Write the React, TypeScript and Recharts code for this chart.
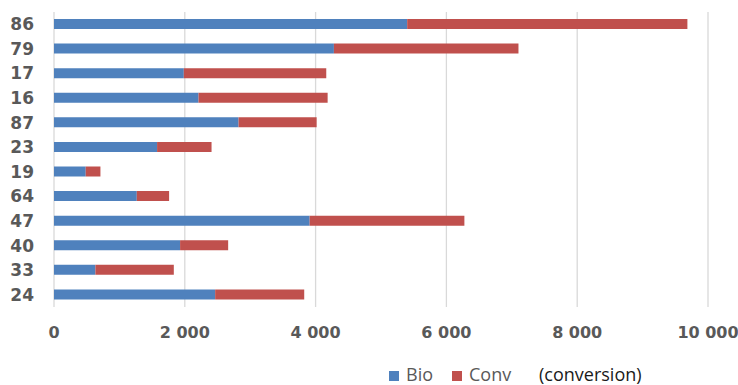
import React from 'react';
import { BarChart, Bar, XAxis, YAxis, CartesianGrid, Legend } from 'recharts';

const categories = ['86', '79', '17', '16', '87', '23', '19', '64', '47', '40', '33', '24'];
const bioValues = [5400, 4280, 1985, 2210, 2822, 1576, 485, 1266, 3909, 1928, 633, 2464];
const convValues = [4285, 2822, 2178, 1974, 1194, 833, 225, 494, 2366, 735, 1199, 1362];
const xTicks = [0, 2000, 4000, 6000, 8000, 10000];
const seriesNames = ['Bio', 'Conv'];
const seriesColors = ['#4f81bd', '#c0504d'];
const unitLabel = '(conversion)';

const data = categories.map((c, i) => ({ name: c, Bio: bioValues[i], Conv: convValues[i] }));

const fmt = (v: number) => {
  const s = String(v);
  return s.replace(/\B(?=(\d{3})+(?!\d))/g, ' ');
};

const LegendContent = () => (
  <div style={{ position: 'relative', width: 738, height: 22, fontFamily: 'Open Sans', fontSize: 18 }}>
    <div style={{ position: 'absolute', left: 389, top: 8, width: 10, height: 10, background: seriesColors[0] }} />
    <span style={{ position: 'absolute', left: 406, top: 2, lineHeight: '18px', color: '#595959', whiteSpace: 'nowrap' }}>{seriesNames[0]}</span>
    <div style={{ position: 'absolute', left: 452, top: 8, width: 10, height: 10, background: seriesColors[1] }} />
    <span style={{ position: 'absolute', left: 469, top: 2, lineHeight: '18px', color: '#595959', whiteSpace: 'nowrap' }}>{seriesNames[1]}</span>
    <span style={{ position: 'absolute', left: 539, top: 2, lineHeight: '18px', color: '#1a1a1a', whiteSpace: 'nowrap' }}>{unitLabel}</span>
  </div>
);

export default function App() {
  return (
    <div style={{ position: 'absolute', left: 0, top: 0, width: 738, height: 385, background: '#fff', overflow: 'hidden' }}>
      <BarChart
        width={738}
        height={385}
        data={data}
        layout="vertical"
        margin={{ top: 12, right: 30, bottom: 16, left: 0 }}
        barSize={10}
      >
        <CartesianGrid horizontal={false} stroke="#d9d9d9" strokeWidth={1.3} />
        <XAxis
          type="number"
          domain={[0, 10000]}
          ticks={xTicks}
          tickFormatter={fmt}
          axisLine={false}
          tickLine={false}
          height={40}
          tickSize={0}
          tickMargin={20}
          tick={{ fill: '#595959', fontFamily: 'DejaVu Sans', fontWeight: 700, fontSize: 16 }}
          interval={0}
        />
        <YAxis
          type="category"
          dataKey="name"
          width={54}
          axisLine={false}
          tickLine={false}
          tickSize={0}
          tickMargin={20}
          tick={{ fill: '#595959', fontFamily: 'DejaVu Sans', fontWeight: 700, fontSize: 17 }}
          interval={0}
        />
        <Legend
          verticalAlign="bottom"
          content={LegendContent}
          wrapperStyle={{ top: 363, left: 0, width: 738, height: 22 }}
        />
        <Bar dataKey="Bio" stackId="a" fill={seriesColors[0]} isAnimationActive={false} />
        <Bar dataKey="Conv" stackId="a" fill={seriesColors[1]} isAnimationActive={false} />
      </BarChart>
    </div>
  );
}
